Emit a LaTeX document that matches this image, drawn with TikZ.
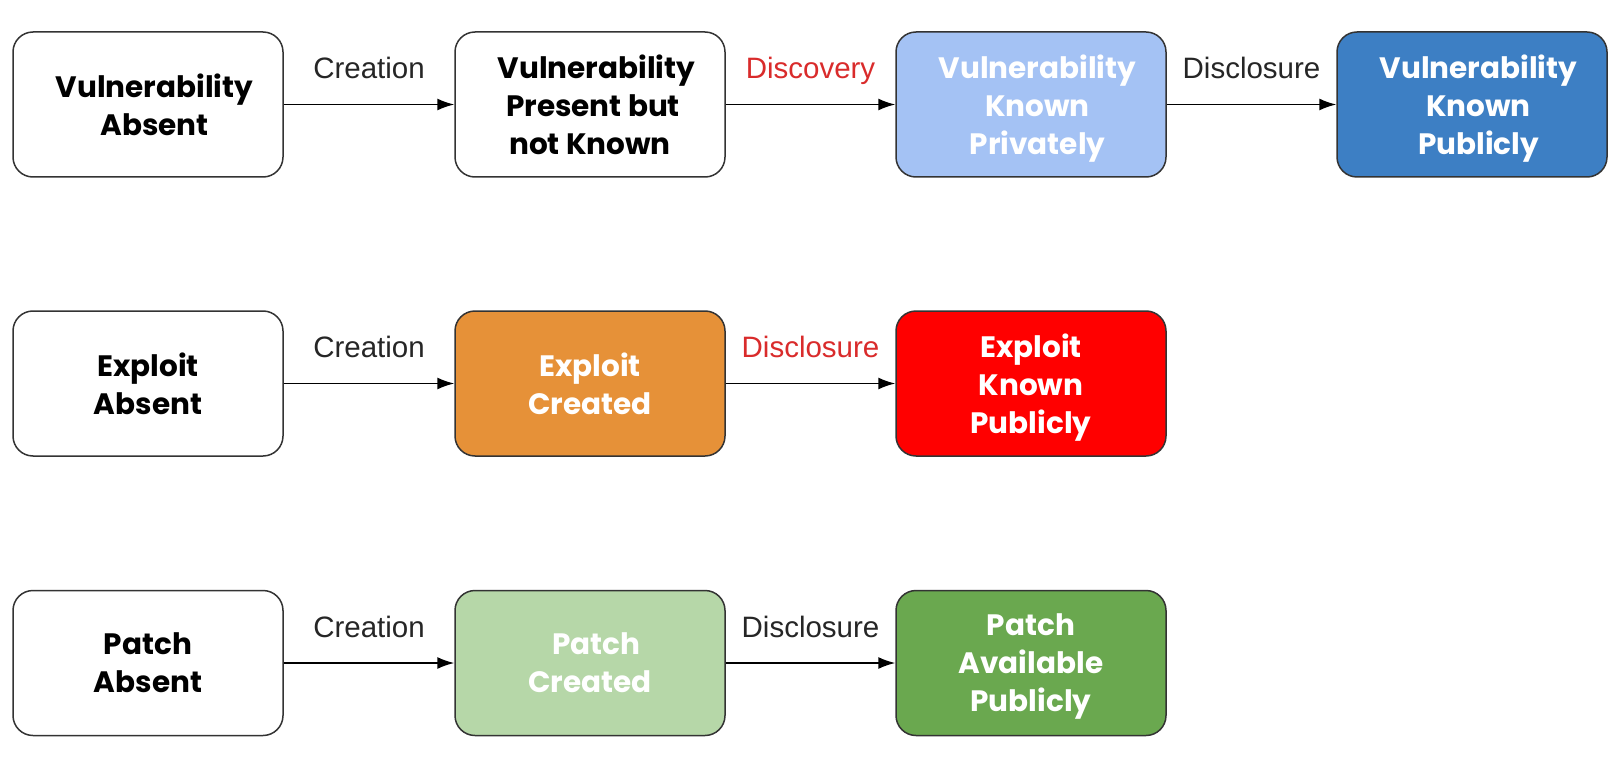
\documentclass[tikz,border=0pt]{standalone}
\usepackage{fontspec}
\setmainfont{Poppins}
\newfontfamily\lblfont{Liberation Sans}
\usetikzlibrary{arrows.meta,calc}
\definecolor{lblue}{HTML}{A4C2F4}
\definecolor{dblue}{HTML}{3D7FC4}
\definecolor{orng}{HTML}{E69138}
\definecolor{lgreen}{HTML}{B6D7A8}
\definecolor{dgreen}{HTML}{6AA84F}
\definecolor{lblred}{HTML}{D92B2B}
\definecolor{edge}{HTML}{333333}
\newcommand{\sh}{\hspace*{13pt}}
\tikzset{
  box/.style={draw=edge, line width=1.5pt, rounded corners=20pt, minimum width=270pt, minimum height=145pt, inner sep=0pt, align=center, font=\fontsize{29.5}{38}\selectfont\bfseries, text=black},
  wbox/.style={box, text=white},
  conn/.style={draw=black, line width=1.5pt, -{Latex[length=17pt,width=12pt]}},
  lbl/.style={font=\lblfont\fontsize{29.5}{34}\selectfont, anchor=base, text=black!85, inner sep=0pt},
  rlbl/.style={lbl, text=lblred}
}
\begin{document}
\begin{tikzpicture}[x=1pt,y=-1pt]
\useasboundingbox (0,0) rectangle (1616,770);
% row 1
\node[box] (va) at (148,104.5) {\sh Vulnerability\\\sh Absent};
\node[box] (vp) at (590,104.5) {\sh Vulnerability\\\hspace*{6pt}Present but\\not Known};
\node[wbox, fill=lblue] (vk) at (1031,104.5) {\sh Vulnerability\\\sh Known\\\sh\smash{Privately}};
\node[wbox, fill=dblue] (vpub) at (1472,104.5) {\sh Vulnerability\\\sh Known\\\sh\smash{Publicly}};
% row 2
\node[box] (ea) at (148,383.5) {Exploit\\Absent};
\node[wbox, fill=orng] (ec) at (590,383.5) {Exploit\\Created};
\node[wbox, fill=red] (ek) at (1031,383.5) {Exploit\\Known\\\smash{Publicly}};
% row 3
\node[box] (pa) at (148,663) {Patch\\Absent};
\node[wbox, fill=lgreen] (pc) at (590,663) {\sh Patch\\Created};
\node[wbox, fill=dgreen] (pk) at (1031,663) {Patch\\Available\\\smash{Publicly}};
% connectors
\draw[conn] (va) -- (vp);
\draw[conn] (vp) -- (vk);
\draw[conn] (vk) -- (vpub);
\draw[conn] (ea) -- (ec);
\draw[conn] (ec) -- (ek);
\draw[conn] (pa) -- (pc);
\draw[conn] (pc) -- (pk);
% labels
\node[lbl] (l1) at ($(va.east)!0.5!(vp.west)+(0,-26)$) {Creation};
\node[rlbl] (l2) at ($(vp.east)!0.5!(vk.west)+(0,-26)$) {Discovery};
\node[lbl] (l3) at ($(vk.east)!0.5!(vpub.west)+(0,-26)$) {Disclosure};
\node[lbl] (l4) at ($(ea.east)!0.5!(ec.west)+(0,-26)$) {Creation};
\node[rlbl] (l5) at ($(ec.east)!0.5!(ek.west)+(0,-26)$) {Disclosure};
\node[lbl] (l6) at ($(pa.east)!0.5!(pc.west)+(0,-26)$) {Creation};
\node[lbl] (l7) at ($(pc.east)!0.5!(pk.west)+(0,-26)$) {Disclosure};
\end{tikzpicture}
\end{document}
